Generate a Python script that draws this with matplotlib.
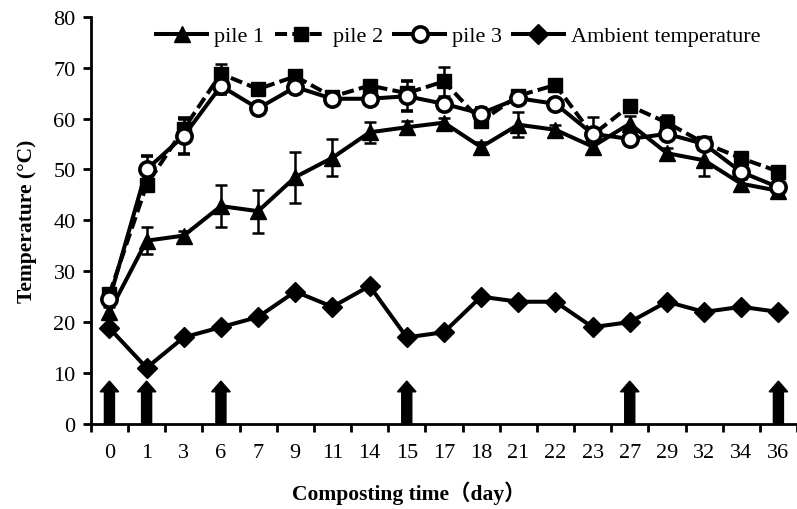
import matplotlib
matplotlib.use("Agg")
import matplotlib.pyplot as plt
from matplotlib.patches import FancyArrow
from matplotlib.lines import Line2D
import numpy as np

days = ["0", "1", "3", "6", "7", "9", "11", "14", "15", "17", "18", "21", "22", "23", "27", "29", "32", "34", "36"]
pile1 = [22, 36, 37, 42.8, 41.8, 48.5, 52.3, 57.3, 58.3, 59.2, 54.4, 58.8, 57.8, 54.5, 59, 53.2, 51.8, 47.2, 45.8]
pile1_err = [1, 2.7, 1, 4.2, 4.2, 5, 3.6, 2, 1.2, 1, 1, 2.5, 1, 1, 1.5, 1, 3, 1, 1]
pile2 = [25.5, 47, 58, 68.8, 65.8, 68.3, 64.3, 66.5, 65, 67.3, 59.5, 64.5, 66.6, 56.8, 62.5, 59.2, 55.2, 52.2, 49.6]
pile2_err = [1, 1, 2, 2, 1, 1, 1, 1, 1, 2.8, 1, 1, 1, 3.5, 1, 1.5, 1, 1, 1]
pile3 = [24.5, 50, 56.6, 66.4, 62, 66.2, 63.9, 63.9, 64.4, 62.9, 61, 64, 62.9, 57, 56, 57, 55, 49.5, 46.5]
pile3_err = [1, 2.7, 3.5, 1.5, 1, 1, 1, 1, 3, 1, 1, 1, 1, 1, 1, 1, 1, 1, 1]
ambient = [18.8, 11, 17, 19, 21, 26, 23, 27.1, 17, 18, 25, 24, 24, 19, 20, 24, 22, 23, 22]
turning_days = ["0", "1", "6", "15", "27", "36"]

serif = ["Liberation Serif", "Noto Sans CJK SC"]
plt.rcParams["font.family"] = serif

fig = plt.figure(figsize=(7.97, 5.10), dpi=100)
ax = fig.add_axes([0.114, 0.167, 0.886, 0.798])

x = np.arange(len(days))
lw = 2.9
common = dict(color="black", lw=lw, capsize=4, elinewidth=1.8, capthick=1.8)
st1 = dict(marker="^", ms=12, mfc="black", mec="black", ls="-")
st2 = dict(marker="s", ms=10, mfc="black", mec="black", ls=(0, (3.0, 1.3)))
st3 = dict(marker="o", ms=11, mfc="white", mec="black", mew=2.6, ls="-")
st4 = dict(marker="D", ms=10, mfc="black", mec="black", ls="-")

ax.errorbar(x, pile1, yerr=pile1_err, zorder=3, **st1, **common)
ax.errorbar(x, pile2, yerr=pile2_err, zorder=3, **st2, **common)
ax.errorbar(x, pile3, yerr=pile3_err, zorder=4, **st3, **common)
ax.plot(x, ambient, color="black", lw=lw, zorder=3, **st4)

# turning arrows
for d in turning_days:
    i = days.index(d)
    arr = FancyArrow(i, 0, 0, 8.4, width=0.27, head_width=0.5, head_length=2.1,
                     length_includes_head=True, color="black", zorder=5, clip_on=False)
    ax.add_patch(arr)

ax.set_xlim(-0.5, len(days) - 0.5)
ax.set_ylim(0, 80)
ax.set_xticks(x)
ax.set_xticklabels(days, fontsize=16)
ax.set_xticks(np.arange(-0.5, len(days), 1), minor=True)
ax.tick_params(axis="x", which="major", length=0, pad=14)
ax.tick_params(axis="x", which="minor", length=6, width=2, direction="out")
ax.set_yticks(np.arange(0, 81, 10))
ax.tick_params(axis="y", labelsize=16, length=6, width=2, direction="out", pad=5)
for s in ["top", "right"]:
    ax.spines[s].set_visible(False)
for s in ["left", "bottom"]:
    ax.spines[s].set_linewidth(2)

ax.set_ylabel("Temperature (°C)", fontsize=15.5, fontweight="bold", labelpad=12)
ax.set_xlabel("Composting time（day）", fontsize=15.5, fontweight="bold")
ax.xaxis.set_label_coords(0.45, -0.14)

handles = [
    Line2D([], [], color="black", lw=lw, **st1),
    Line2D([], [], color="black", lw=lw, **st2),
    Line2D([], [], color="black", lw=lw, **st3),
    Line2D([], [], color="black", lw=lw, **st4),
]
labels = ["pile 1", "pile 2", "pile 3", "Ambient temperature"]
ax.legend(handles, labels, loc="upper center", bbox_to_anchor=(0.52, 1.0), ncol=4,
          frameon=False, fontsize=16, handlelength=2.3, columnspacing=0.5,
          handletextpad=0.3, borderaxespad=0.0)

fig.savefig("out.png", dpi=100)
